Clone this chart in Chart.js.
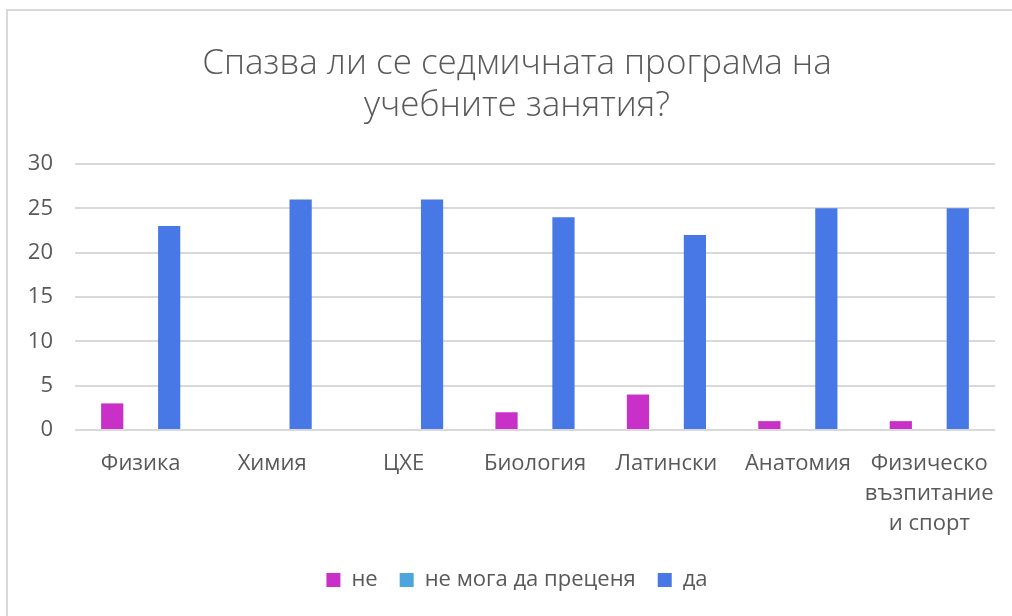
<!DOCTYPE html>
<html>
<head>
<meta charset="utf-8">
<script src="https://cdn.jsdelivr.net/npm/chart.js@4"></script>
<style>
    body { margin: 0; background: #fff; overflow: hidden; }
    #frame {
        position: absolute; left: 6px; top: 9px;
        width: 1100px; height: 700px;
        border: 2px solid #d9d9d9; box-sizing: border-box;
    }
    #chart { position: absolute; left: 0; top: 0; }
</style>
</head>
<body>
<div id="frame"></div>
<canvas id="chart" width="1024" height="616"></canvas>
<script>
// Chart data
const categories = ['Физика', 'Химия', 'ЦХЕ', 'Биология', 'Латински', 'Анатомия', ['Физическо', 'възпитание', 'и спорт']];
const seriesNames = ['не', 'не мога да преценя', 'да'];
const valuesNo = [3, 0, 0, 2, 4, 1, 1];
const valuesCantSay = [0, 0, 0, 0, 0, 0, 0];
const valuesYes = [23, 26, 26, 24, 22, 25, 25];
const yTicks = [0, 5, 10, 15, 20, 25, 30];

const seriesColors = ['#C830C8', '#4BA6DD', '#4877E6'];
const textColor = '#595959';
const fontFamily = '"Open Sans", "Noto Sans", sans-serif';

const datasets = [valuesNo, valuesCantSay, valuesYes].map((values, i) => ({
    label: seriesNames[i],
    data: values,
    backgroundColor: seriesColors[i],
    borderWidth: 0,
    categoryPercentage: 0.65,
    barPercentage: 0.78
}));

new Chart(document.getElementById('chart'), {
    type: 'bar',
    data: { labels: categories, datasets: datasets },
    options: {
        responsive: false,
        animation: false,
        layout: { padding: { left: 10, right: 0, top: 22, bottom: 15 } },
        plugins: {
            title: {
                display: true,
                text: ['Спазва ли се седмичната програма на', 'учебните занятия?'],
                color: textColor,
                font: { family: fontFamily, size: 35, weight: '300', lineHeight: 1.2 },
                padding: { top: 21, bottom: 37 }
            },
            legend: {
                position: 'bottom',
                labels: {
                    color: textColor,
                    font: { family: fontFamily, size: 22, lineHeight: 1 },
                    boxWidth: 14,
                    boxHeight: 14,
                    padding: 22
                }
            },
            tooltip: { enabled: false }
        },
        scales: {
            x: {
                afterFit: scale => { scale.height = 117; },
                grid: { display: false, drawTicks: false },
                border: { display: false },
                ticks: {
                    color: textColor,
                    font: { family: fontFamily, size: 22, lineHeight: 1.36 },
                    padding: 19,
                    autoSkip: false,
                    maxRotation: 0
                }
            },
            y: {
                min: 0,
                max: 30,
                afterBuildTicks: scale => { scale.ticks = yTicks.map(v => ({ value: v })); },
                afterFit: scale => { scale.width = 65; },
                grid: { color: '#d9d9d9', lineWidth: 2, drawTicks: false },
                border: { display: false },
                ticks: {
                    color: textColor,
                    font: { family: fontFamily, size: 22 },
                    padding: 22
                }
            },
            // empty right-hand spacer: the original chart runs past the right edge,
            // so title and legend sit a bit right of the plot centre
            spacer: {
                position: 'right',
                afterFit: scale => { scale.width = 29; },
                grid: { display: false, drawTicks: false },
                border: { display: false },
                ticks: { display: false }
            }
        }
    }
});
</script>
</body>
</html>
